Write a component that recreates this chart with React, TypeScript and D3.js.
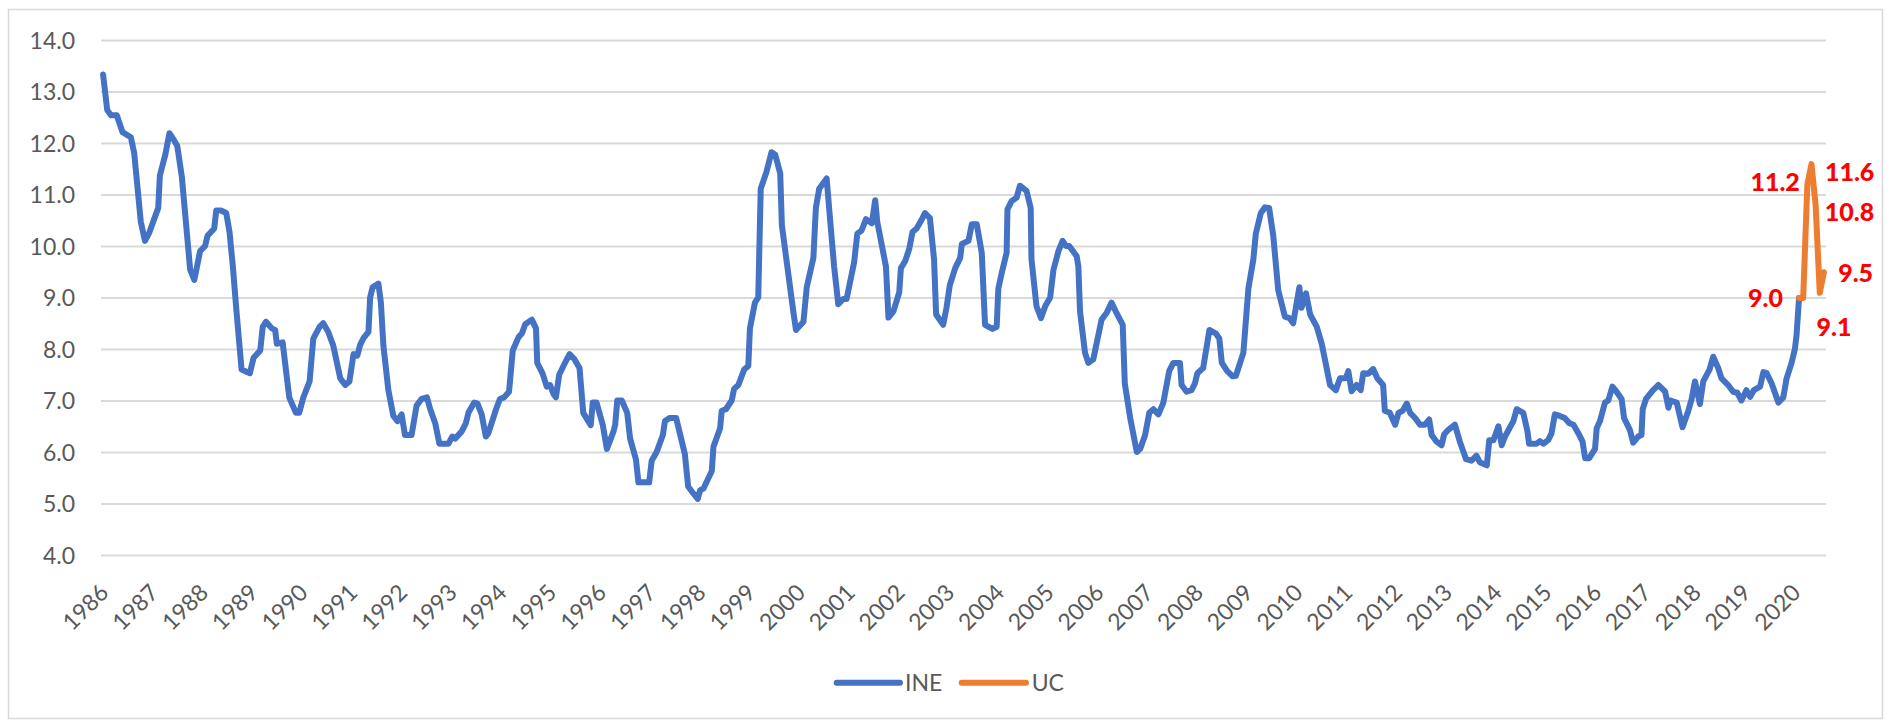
import React from 'react';
import * as d3 from 'd3';

// ---------- data ----------
const yearLabels: string[] = [
  '1986','1987','1988','1989','1990','1991','1992','1993','1994','1995','1996','1997',
  '1998','1999','2000','2001','2002','2003','2004','2005','2006','2007','2008','2009',
  '2010','2011','2012','2013','2014','2015','2016','2017','2018','2019','2020'
];
const yTicks: number[] = [4, 5, 6, 7, 8, 9, 10, 11, 12, 13, 14];

// month index since Jan 1986 and INE rate
const ineMonth: number[] = [
  0,1.0,1.9,3.3,4.7,5.9,6.7,7.5,9.1,10.1,11.2,13.3,13.7,15.0,16.0,17.0,17.9,19.0,21.0,22.0,
  23.4,24.6,25.2,26.8,27.3,28.4,29.7,30.5,31.3,32.1,33.4,35.4,36.3,37.9,38.5,39.3,40.7,41.5,41.9,43.3,
  44.9,46.5,47.3,48.3,49.8,50.7,52.2,53.1,
  54.3,55.5,57.2,58.4,59.4,60.4,61.3,62.0,62.8,64.0,64.4,65.0,66.4,67.0,67.6,68.8,70.0,71.0,72.0,72.8,
  74.4,75.6,76.8,78.1,78.9,80.1,81.1,83.3,84.2,84.9,86.5,87.5,88.1,89.5,90.3,91.3,92.3,92.9,94.1,94.9,
  95.7,96.7,97.9,98.8,100.2,101.0,101.8,103.4,104.4,104.7,106.0,107.0,107.8,108.6,109.2,
  110.0,111.2,112.5,113.6,114.9,115.8,117.6,118.1,119.0,120.5,121.5,123.1,123.5,124.0,125.1,126.4,127.1,128.5,129.1,131.7,
  132.3,133.5,135.0,135.5,136.6,138.2,140.3,141.1,142.4,143.4,144.0,144.8,146.8,147.2,148.8,149.2,150.2,151.6,152.2,153.2,
  154.6,155.6,156.0,157.2,158.0,158.6,160.0,161.2,162.1,163.3,163.7,
  166.5,167.1,168.9,169.7,171.3,171.9,172.7,174.5,175.3,176.3,177.3,178.5,179.3,180.5,181.1,181.9,182.9,184.0,185.4,186.2,
  186.7,188.8,189.4,190.6,192.0,192.4,193.4,194.4,195.2,196.2,197.4,198.2,199.4,200.4,200.9,202.6,203.4,204.2,205.5,206.7,
  207.1,208.7,209.5,210.7,211.9,212.7,214.5,215.5,215.9,216.7,217.9,218.1,
  219.1,220.3,221.1,222.7,223.7,223.9,225.1,226.2,227.2,228.4,229.2,230.4,231.4,232.2,233.0,234.8,235.2,235.6,236.8,237.6,
  238.8,239.5,240.8,242.0,243.2,244.4,245.9,246.4,247.7,249.3,250.1,251.3,252.3,253.3,254.5,255.7,257.1,258.1,259.7,260.1,
  261.3,262.5,263.3,263.9,265.3,266.8,268.4,269.2,269.8,271.1,272.4,273.2,
  275.0,276.2,277.4,278.0,279.2,280.2,281.2,282.2,283.4,285.0,286.1,287.0,288.5,289.0,290.1,291.1,292.7,293.9,295.9,297.3,
  298.3,299.7,300.3,301.1,302.3,303.3,303.9,305.1,306.3,307.3,308.7,309.1,310.3,311.6,312.4,313.4,314.4,315.2,316.4,317.6,
  318.8,319.8,320.4,321.6,322.8,323.4,324.4,326.0,327.2,328.7,330.0,
  331.2,332.0,333.7,334.3,335.3,336.5,337.3,338.1,339.3,340.1,340.9,342.5,343.5,343.9,345.7,346.5,347.3,348.5,349.3,350.1,
  351.3,352.5,353.6,354.6,355.8,356.8,357.4,358.4,359.8,360.2,361.0,362.2,363.0,364.0,365.0,366.2,366.8,368.2,369.0,370.2,
  371.0,371.3,372.1,
  373.8,375.1,376.7,377.5,378.0,379.5,380.9,382.3,383.1,383.9,385.1,385.9,387.4,388.3,389.5,390.3,391.9,393.1,394.1,395.1,
  396.3,397.2,398.1,399.6,400.4,401.2,402.4,404.0,405.2,406.0,407.2,408.0,408.4,409
];
const ineRate: number[] = [
  13.34,12.65,12.55,12.55,12.22,12.16,12.12,11.82,10.48,10.11,10.28,10.75,11.38,11.78,12.20,12.08,11.95,11.35,9.55,9.35,
  9.91,10.01,10.21,10.35,10.70,10.70,10.65,10.28,9.61,8.81,7.61,7.54,7.84,7.98,8.44,8.54,8.41,8.38,8.11,8.14,
  7.07,6.77,6.77,7.07,7.38,8.21,8.44,8.51,
  8.34,8.08,7.44,7.31,7.38,7.91,7.88,8.09,8.22,8.34,9.01,9.21,9.28,8.91,8.08,7.21,6.71,6.61,6.74,6.34,
  6.34,6.91,7.04,7.07,6.84,6.57,6.17,6.17,6.31,6.27,6.41,6.57,6.77,6.97,6.95,6.74,6.31,6.37,6.67,6.87,
  7.04,7.07,7.18,7.98,8.24,8.31,8.49,8.58,8.41,7.74,7.53,7.28,7.31,7.14,7.07,
  7.51,7.71,7.91,7.82,7.64,6.77,6.53,6.97,6.97,6.54,6.07,6.41,6.54,7.01,7.01,6.77,6.27,5.87,5.42,5.42,
  5.84,6.01,6.34,6.61,6.67,6.67,5.97,5.34,5.20,5.10,5.27,5.30,5.64,6.11,6.47,6.81,6.84,7.01,7.24,7.31,
  7.61,7.68,8.41,8.91,9.01,11.12,11.45,11.83,11.78,11.42,10.41,
  8.71,8.38,8.54,9.21,9.78,10.75,11.12,11.32,10.55,9.61,8.88,8.98,8.98,9.45,9.68,10.25,10.31,10.53,10.45,10.90,
  10.48,9.61,8.62,8.74,9.11,9.58,9.71,9.95,10.28,10.35,10.52,10.65,10.55,9.75,8.68,8.48,8.81,9.25,9.58,9.78,
  10.05,10.11,10.43,10.43,9.88,8.48,8.40,8.44,9.18,9.48,9.88,10.72,
  10.88,10.95,11.18,11.08,10.75,9.75,8.84,8.61,8.84,9.01,9.55,9.91,10.11,10.01,10.01,9.81,9.61,8.74,7.94,7.74,
  7.81,8.08,8.58,8.71,8.91,8.71,8.48,7.34,6.67,6.01,6.07,6.34,6.77,6.84,6.74,6.97,7.58,7.74,7.74,7.31,
  7.18,7.21,7.34,7.54,7.64,8.38,8.31,8.21,7.74,7.58,7.48,7.49,
  7.94,9.18,9.75,10.25,10.65,10.76,10.75,10.21,9.15,8.64,8.61,8.51,9.21,8.81,9.09,8.68,8.44,8.11,7.31,7.21,
  7.44,7.44,7.58,7.19,7.31,7.21,7.54,7.53,7.62,7.44,7.31,6.81,6.77,6.54,6.77,6.81,6.95,6.77,6.67,6.54,
  6.54,6.64,6.34,6.21,6.14,6.35,6.44,6.54,6.21,5.87,5.84,
  5.94,5.81,5.75,6.24,6.24,6.51,6.14,6.31,6.49,6.61,6.84,6.77,6.41,6.17,6.17,6.22,6.17,6.24,6.37,6.74,
  6.71,6.67,6.57,6.54,6.37,6.21,5.89,5.89,6.07,6.47,6.61,6.97,7.01,7.28,7.18,7.04,6.67,6.44,6.19,6.31,
  6.34,6.84,7.04,
  7.21,7.31,7.18,6.87,7.01,6.97,6.49,6.81,7.04,7.38,6.94,7.38,7.61,7.86,7.64,7.44,7.31,7.18,7.16,7.01,
  7.21,7.08,7.21,7.28,7.56,7.54,7.34,6.97,7.07,7.44,7.74,8.01,8.28,9.0
];

const ucMonth: number[] = [409, 410, 411, 412, 413, 414, 415];
const ucRate: number[] = [9.0, 9.0, 11.2, 11.6, 10.8, 9.1, 9.5];

const seriesNames: string[] = ['INE', 'UC'];

// ---------- layout / style ----------
const W = 1890;
const H = 726;
const plot = { left: 101, right: 1826, top: 40.5, bottom: 555.5 };
const nCategories = 416;
const blue = '#4472C4';
const orange = '#ED7D31';
const textGray = '#595959';
const gridGray = '#D9D9D9';
const fontFamily = "Lato, 'Carlito', 'Liberation Sans', sans-serif";

// data label placement for UC points (null = no label)
const ucLabelPlacement: ({ anchor: string; dx: number; dy: number } | null)[] = [
  { anchor: 'end', dx: -16, dy: 0 },
  null,
  { anchor: 'end', dx: -7.5, dy: -2.5 },
  { anchor: 'start', dx: 13.4, dy: 7.6 },
  { anchor: 'start', dx: 9.2, dy: 6.4 },
  { anchor: 'middle', dx: 14.3, dy: 33.8 },
  { anchor: 'start', dx: 14.2, dy: 1 },
];

export default function App() {
  const x = d3.scaleLinear().domain([-0.5, nCategories - 0.5]).range([plot.left, plot.right]);
  const y = d3.scaleLinear().domain([4, 14]).range([plot.bottom, plot.top]);
  const line = d3
    .line<[number, number]>()
    .x((d) => x(d[0]))
    .y((d) => y(d[1]));

  const ine: [number, number][] = ineMonth.map((m, i) => [m, ineRate[i]]);
  const uc: [number, number][] = ucMonth.map((m, i) => [m, ucRate[i]]);
  const fmt = d3.format('.1f');

  const legendY = 682.7;
  const legend = [
    { name: seriesNames[0], color: blue, x1: 836.7, x2: 900, tx: 905 },
    { name: seriesNames[1], color: orange, x1: 961.7, x2: 1026, tx: 1031.7 },
  ];

  return (
    <svg
      width={W}
      height={H}
      style={{ position: 'absolute', left: 0, top: 0, display: 'block' }}
      fontFamily={fontFamily}
    >
      <rect x={0} y={0} width={W} height={H} fill="#fff" />
      <rect x={8.5} y={9.5} width={1874} height={709} fill="#fff" stroke={gridGray} strokeWidth={1.5} />

      {/* gridlines */}
      {yTicks.map((t) => (
        <line key={'g' + t} x1={plot.left} x2={plot.right} y1={y(t)} y2={y(t)} stroke={gridGray} strokeWidth={1.8} />
      ))}

      {/* y labels */}
      {yTicks.map((t) => (
        <text key={'y' + t} x={75} y={y(t)} dy="0.36em" textAnchor="end" fontSize={23} fill={textGray}>
          {fmt(t)}
        </text>
      ))}

      {/* x labels */}
      {yearLabels.map((lab, i) => {
        const cx = x(i * 12) + 7;
        const cy = 594;
        return (
          <text
            key={'x' + lab}
            x={cx}
            y={cy}
            textAnchor="end"
            fontSize={23}
            fill={textGray}
            transform={`rotate(-45 ${cx} ${cy})`}
          >
            {lab}
          </text>
        );
      })}

      {/* series */}
      <path d={line(ine) || ''} fill="none" stroke={blue} strokeWidth={6} strokeLinejoin="round" strokeLinecap="round" />
      <path d={line(uc) || ''} fill="none" stroke={orange} strokeWidth={6} strokeLinejoin="round" strokeLinecap="round" />

      {/* UC data labels */}
      {uc.map((d, i) => {
        const p = ucLabelPlacement[i];
        if (!p) return null;
        return (
          <text
            key={'l' + i}
            x={x(d[0]) + p.dx}
            y={y(d[1]) + p.dy}
            dy="0.36em"
            textAnchor={p.anchor}
            fontSize={25}
            fontWeight={900}
            fill="#FF0000"
          >
            {fmt(d[1])}
          </text>
        );
      })}

      {/* legend */}
      {legend.map((l) => (
        <g key={l.name}>
          <line x1={l.x1} x2={l.x2} y1={legendY} y2={legendY} stroke={l.color} strokeWidth={6} strokeLinecap="round" />
          <text x={l.tx} y={legendY} dy="0.36em" fontSize={23} fill={textGray}>
            {l.name}
          </text>
        </g>
      ))}
    </svg>
  );
}
